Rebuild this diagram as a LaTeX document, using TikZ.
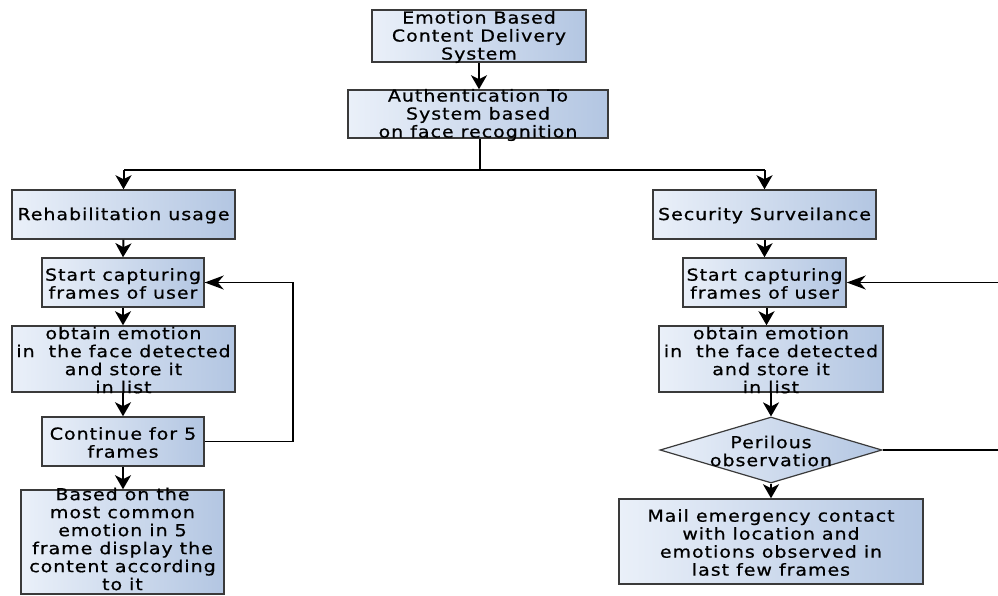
\documentclass[tikz,border=0pt]{standalone}
\usepackage{fontspec}
\setmainfont{DejaVu Sans}[LetterSpace=6,FakeStretch=1.15,FakeBold=0.7]
\usetikzlibrary{arrows.meta,shapes.geometric}
\definecolor{boxL}{HTML}{EAF0F9}
\definecolor{boxR}{HTML}{B3C6E2}
\definecolor{edge}{HTML}{3A3A3A}
\tikzset{
  x=1pt, y=-1pt,
  box/.style={draw=edge, line width=1.5pt, left color=boxL, right color=boxR, inner sep=0pt, rectangle},
  dia/.style={draw=edge, line width=1.2pt, left color=boxL, right color=boxR, inner sep=0pt, diamond},
  lbl/.style={align=center, inner sep=0pt, font=\fontsize{16.5}{18}\selectfont, text=black},
  arr/.style={-{Stealth[length=14pt,width=16pt,inset=4pt]}, line width=2pt, black},
  loopline/.style={line width=1.4pt, black},
  backarr/.style={-{Stealth[length=19pt,width=14pt,inset=6pt]}, line width=1.4pt, black},
}
\begin{document}
\begin{tikzpicture}
\useasboundingbox (0,0) rectangle (998,595);
\fill[white] (0,0) rectangle (998,595);

% boxes
\node[box, minimum width=214pt, minimum height=52pt] (top) at (479,36) {};
\node[box, minimum width=260pt, minimum height=48pt] (auth) at (478,114) {};
\node[box, minimum width=223pt, minimum height=49pt] (rehab) at (123.5,214.5) {};
\node[box, minimum width=162pt, minimum height=49pt] (scL) at (123,282.5) {};
\node[box, minimum width=223pt, minimum height=66pt] (obL) at (123.5,359) {};
\node[box, minimum width=162pt, minimum height=49pt] (cont) at (123,441.5) {};
\node[box, minimum width=203pt, minimum height=104pt] (based) at (122.5,542) {};
\node[box, minimum width=223pt, minimum height=49pt] (sec) at (764.5,214.5) {};
\node[box, minimum width=163pt, minimum height=49pt] (scR) at (764.5,282.5) {};
\node[box, minimum width=224pt, minimum height=66pt] (obR) at (771,359) {};
\node[dia, minimum width=222pt, minimum height=66pt] (perl) at (771,450) {};
\node[box, minimum width=304pt, minimum height=85pt] (mail) at (771,541.5) {};

% texts
\node[lbl] (ttop) at ([yshift=-1pt]top.center) {Emotion Based\\Content Delivery\\System};
\node[lbl] (tauth) at ([yshift=-1pt]auth.center) {Authentication To\\System based\\on face recognition};
\node[lbl] (trehab) at ([yshift=-1pt]rehab.center) {Rehabilitation usage};
\node[lbl] (tscL) at ([yshift=-1pt]scL.center) {Start capturing\\frames of user};
\node[lbl] (tobL) at ([yshift=-1pt]obL.center) {obtain emotion\\in\ \ the face detected\\and store it\\in list};
\node[lbl] (tcont) at ([yshift=-1pt]cont.center) {Continue for 5\\frames};
\node[lbl] (tbased) at ([yshift=3pt]based.center) {Based on the\\most common\\emotion in 5\\frame display the\\content according\\to it};
\node[lbl] (tsec) at ([yshift=-1pt]sec.center) {Security Surveilance};
\node[lbl] (tscR) at ([yshift=-1pt]scR.center) {Start capturing\\frames of user};
\node[lbl] (tobR) at ([yshift=-1pt]obR.center) {obtain emotion\\in\ \ the face detected\\and store it\\in list};
\node[lbl] (tperl) at ([yshift=-1pt]perl.center) {Perilous\\observation};
\node[lbl] (tmail) at ([yshift=-1pt]mail.center) {Mail emergency contact\\with location and\\emotions observed in\\last few frames};

% connectors
\coordinate (j) at (480,170);
\coordinate (loopL) at (293,441.5);
\coordinate (rA) at (999,450);
\coordinate (rB) at (999,282.5);

\draw[arr] (top.south) -- (auth.north -| top.south);
\draw[line width=2pt] (auth.south -| j) -- (j);
\draw[loopline] (j) -- (j -| rehab.north);
\draw[loopline] (j) -- (j -| sec.north);
\draw[arr] (j -| rehab.north) -- (rehab.north);
\draw[arr] (j -| sec.north) -- (sec.north);

\draw[arr] (rehab.south) -- (scL.north);
\draw[arr] (scL.south) -- (obL.north -| scL.south);
\draw[arr] (obL.south -| scL.south) -- (cont.north);
\draw[arr] (cont.south) -- (based.north -| cont.south);
\draw[loopline] (cont.east) -- (loopL) |- (scL.east);
\draw[backarr] (loopL |- scL.east) -- (scL.east);

\draw[arr] (sec.south) -- (scR.north);
\draw[arr] ([xshift=2pt]scR.south) -- ([xshift=2pt]scR.south |- obR.north);
\draw[arr] (obR.south) -- (perl.north);
\draw[arr] (perl.south) -- (mail.north);
\draw[loopline] (perl.east) -- (rA);
\draw[backarr] (rB) -- (scR.east);
\end{tikzpicture}
\end{document}
